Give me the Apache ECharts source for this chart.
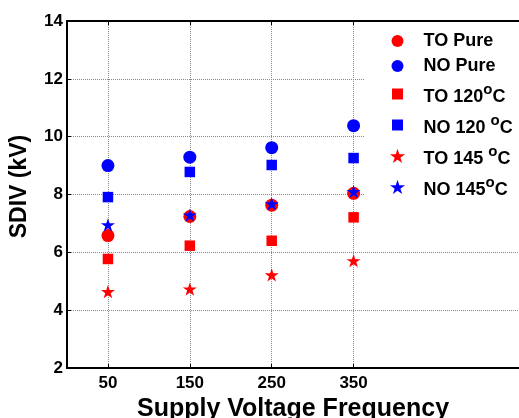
<!DOCTYPE html>
<html><head><meta charset="utf-8">
<script src="https://cdn.jsdelivr.net/npm/echarts@6/dist/echarts.min.js"></script>
<style>html,body{margin:0;padding:0;background:#fff}#c{width:519px;height:418px}</style>
</head><body><div id="c"></div>
<script>
// ---- data ----
const frequencies = [50, 150, 250, 350];
const xTickLabels = [50, 150, 250, 350];
const toPure = [6.58, 7.24, 7.63, 8.04];
const noPure = [9.00, 9.29, 9.62, 10.38];
const to120  = [5.77, 6.23, 6.40, 7.21];
const no120  = [7.91, 8.78, 9.02, 9.26];
const to145  = [4.64, 4.73, 5.22, 5.71];
const no145  = [6.95, 7.29, 7.68, 8.10];
const seriesNames = ['TO Pure', 'NO Pure', 'TO 120°C', 'NO 120 °C', 'TO 145 °C', 'NO 145°C'];

const FONT = 'Liberation Sans, Arial, Helvetica, sans-serif';
const RED = '#ff0000', BLUE = '#0000ff';
const STAR = 'path://M50,0L61.2,34.5L97.6,34.5L68.2,55.9L79.4,90.5L50,69.1L20.6,90.5L31.8,55.9L2.4,34.5L38.8,34.5Z';
const SQUARE = 'path://M0,0L10,0L10,10L0,10Z';
const LEG_CIRCLE = 'path://M0,0M15,15M1.5,7.5A6,6,0,1,1,13.5,7.5A6,6,0,1,1,1.5,7.5Z';
const LEG_SQUARE = 'path://M0,0M15,15M2,2L13,2L13,13L2,13Z';
const LEG_STAR = 'path://M50,-2M50,93M50,0L61.2,34.5L97.6,34.5L68.2,55.9L79.4,90.5L50,69.1L20.6,90.5L31.8,55.9L2.4,34.5L38.8,34.5Z';

const values = [toPure, noPure, to120, no120, to145, no145];
const colors = [RED, BLUE, RED, BLUE, RED, BLUE];
const symbols = ['circle', 'circle', SQUARE, SQUARE, STAR, STAR];
const sizes = [13, 13, 10.5, 10.5, [14, 13.3], [14, 13.3]];
const legIcons = [LEG_CIRCLE, LEG_CIRCLE, LEG_SQUARE, LEG_SQUARE, LEG_STAR, LEG_STAR];

function legendFmt(name) {
  const i = name.indexOf('°');
  if (i < 0) return '{p|' + name + '}';
  return '{m|' + name.slice(0, i) + '}{s|o}{m|' + name.slice(i + 1) + '}';
}

const chart = echarts.init(document.getElementById('c'), null, {renderer: 'canvas'});
const gridLine = {show: true, lineStyle: {color: '#8a8a8a', type: 'dotted', width: 1}};
chart.setOption({
  animation: false,
  backgroundColor: '#fff',
  grid: {left: 67, right: 0, top: 21, bottom: 50, containLabel: false, outerBoundsMode: 'none'},
  graphic: [{
    type: 'rect', z: 1, silent: true,
    shape: {x: 365, y: 22, width: 160, height: 186},
    style: {fill: '#fff'}
  }],
  legend: {
    orient: 'vertical', left: 390, top: 32, padding: 0,
    itemGap: 7, itemWidth: 42, itemHeight: 15,
    symbolKeepAspect: true, selectedMode: false,
    data: seriesNames.map((n, i) => ({name: n, icon: legIcons[i]})),
    formatter: legendFmt,
    textStyle: {
      color: '#000', fontFamily: FONT, fontSize: 18, fontWeight: 'bold',
      rich: {
        p: {color: '#000', fontFamily: FONT, fontSize: 18, fontWeight: 'bold', lineHeight: 18},
        m: {color: '#000', fontFamily: FONT, fontSize: 18, fontWeight: 'bold', lineHeight: 18, verticalAlign: 'bottom'},
        s: {color: '#000', fontFamily: FONT, fontSize: 15, fontWeight: 'bold', lineHeight: 24, verticalAlign: 'top'}
      }
    }
  },
  xAxis: [{
    type: 'value', position: 'bottom', min: 0, max: 552,
    name: 'Supply Voltage Frequency', nameLocation: 'middle', nameGap: 24,
    nameTextStyle: {color: '#000', fontFamily: FONT, fontSize: 25, fontWeight: 'bold'},
    axisLine: {show: true, onZero: false, lineStyle: {color: '#000', width: 2}},
    axisTick: {show: true, inside: true, length: 4, customValues: frequencies, lineStyle: {color: '#000'}},
    axisLabel: {show: true, customValues: xTickLabels, margin: 7, color: '#000', fontFamily: FONT, fontSize: 17, fontWeight: 'bold'},
    splitLine: gridLine
  }, {
    type: 'value', position: 'top', min: 0, max: 552,
    axisLine: {show: true, onZero: false, lineStyle: {color: '#000', width: 2}},
    axisTick: {show: true, inside: true, length: 4, customValues: frequencies, lineStyle: {color: '#000'}},
    axisLabel: {show: false},
    splitLine: {show: false}
  }],
  yAxis: [{
    type: 'value', min: 2, max: 14, interval: 2,
    name: 'SDIV (kV)', nameLocation: 'middle', nameGap: 36,
    nameTextStyle: {color: '#000', fontFamily: FONT, fontSize: 23, fontWeight: 'bold', padding: [0, 0, 0, 16]},
    axisLine: {show: true, onZero: false, lineStyle: {color: '#000', width: 2}},
    axisTick: {show: true, inside: true, length: 4, lineStyle: {color: '#000'}},
    axisLabel: {margin: 4, color: '#000', fontFamily: FONT, fontSize: 17, fontWeight: 'bold'},
    splitLine: gridLine
  }],
  series: seriesNames.map((n, k) => ({
    name: n, type: 'scatter', xAxisIndex: 0, yAxisIndex: 0,
    symbol: symbols[k], symbolSize: sizes[k],
    itemStyle: {color: colors[k], opacity: 1},
    emphasis: {disabled: true},
    data: frequencies.map((f, i) => [f, values[k][i]])
  }))
});
</script></body></html>
